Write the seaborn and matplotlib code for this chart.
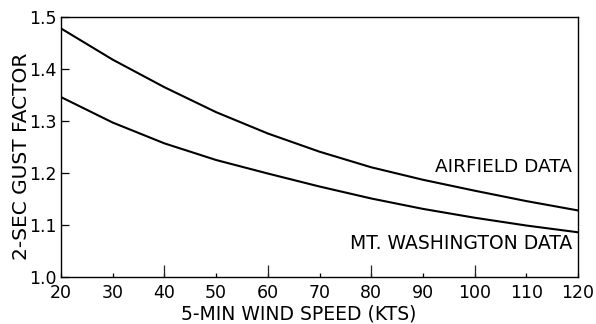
import matplotlib
matplotlib.use("Agg")
import matplotlib.pyplot as plt
from matplotlib.ticker import FixedLocator
import seaborn as sns
import pandas as pd

# 5-minute wind speed (knots)
wind_speed = [20, 30, 40, 50, 60, 70, 80, 90, 100, 110, 120]
# 2-second gust factor for each data set
airfield = [1.478, 1.418, 1.365, 1.317, 1.276, 1.241, 1.211, 1.187, 1.166, 1.146, 1.128]
mt_washington = [1.346, 1.297, 1.257, 1.225, 1.199, 1.174, 1.151, 1.131, 1.114, 1.099, 1.086]

x_ticks = [20, 30, 40, 50, 60, 70, 80, 90, 100, 110, 120]
x_tick_labels = ["20", "30", "40", "50", "60", "70", "80", "90", "100", "110", "120"]
x_long_ticks = [40, 60, 80, 100]
y_ticks = [1.0, 1.1, 1.2, 1.3, 1.4, 1.5]
y_tick_labels = ["1.0", "1.1", "1.2", "1.3", "1.4", "1.5"]

df = pd.DataFrame({
    "speed": wind_speed * 2,
    "gust": airfield + mt_washington,
    "source": ["AIRFIELD DATA"] * len(wind_speed) + ["MT. WASHINGTON DATA"] * len(wind_speed),
})

sns.set_style("white")
plt.rcParams["font.family"] = ["DejaVu Sans"]

W, H = 596, 324
fig = plt.figure(figsize=(W / 100, H / 100), dpi=100)
left, right, top, bottom = 61, 578, 17, 277
ax = fig.add_axes([left / W, 1 - bottom / H, (right - left) / W, (bottom - top) / H])

sns.lineplot(data=df, x="speed", y="gust", units="source", estimator=None,
             color="black", linewidth=1.5, ax=ax, legend=False)

ax.set_xlim(20, 120)
ax.set_ylim(1.0, 1.5)

# short inward ticks every 10 kts, longer ones every 20 kts
ax.set_xticks(x_ticks)
ax.set_xticklabels(x_tick_labels, fontsize=12.5)
ax.xaxis.set_minor_locator(FixedLocator(x_long_ticks))
ax.xaxis.remove_overlapping_locs = False
ax.tick_params(axis="x", which="major", direction="in", length=3, width=0.9,
               pad=5, colors="black", bottom=True)
ax.tick_params(axis="x", which="minor", direction="in", length=9, width=0.9,
               bottom=True)

ax.set_yticks(y_ticks)
ax.set_yticklabels(y_tick_labels, fontsize=12.5)
ax.tick_params(axis="y", direction="in", length=6, width=0.9, pad=3,
               colors="black", left=True)

for sp in ax.spines.values():
    sp.set_color("black")
    sp.set_linewidth(1.0)

ax.set_xlabel("5-MIN WIND SPEED (KTS)", fontsize=13.5, color="black")
ax.set_ylabel("2-SEC GUST FACTOR", fontsize=14.5, color="black")
ax.xaxis.set_label_coords((299 - left) / (right - left), (bottom - 304) / (bottom - top))
ax.yaxis.set_label_coords((31 - left) / (right - left), (bottom - 156) / (bottom - top))

ax.text(118.8, 1.2163, "AIRFIELD DATA", ha="right", va="center_baseline",
        fontsize=13.3, color="black")
ax.text(118.8, 1.0683, "MT. WASHINGTON DATA", ha="right", va="center_baseline",
        fontsize=13.5, color="black")

fig.savefig("out.png", dpi=100, facecolor="white")
